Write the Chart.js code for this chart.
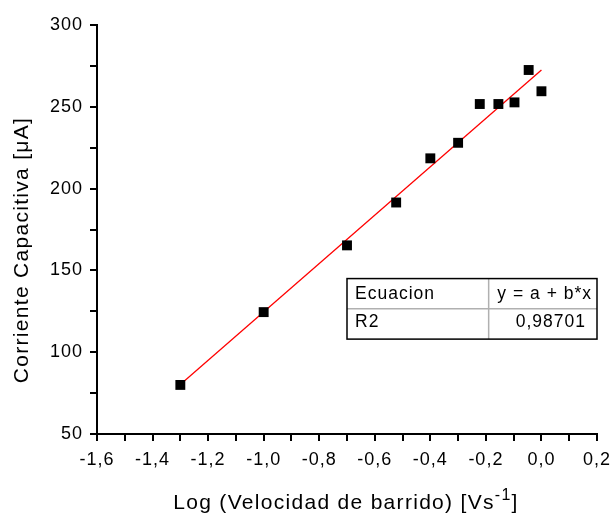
<!DOCTYPE html>
<html>
<head>
<meta charset="utf-8">
<title>Corriente capacitiva</title>
<script src="https://cdn.jsdelivr.net/npm/chart.js@4.4.1/dist/chart.umd.min.js"></script>
<style>
  html, body { margin: 0; padding: 0; background: #fff; }
  #wrap { width: 614px; height: 518px; }
</style>
</head>
<body>
<div id="wrap"><canvas id="myChart" width="614" height="518"></canvas></div>
<script>
// datos
var logVel = [-1.30, -1.00, -0.70, -0.523, -0.40, -0.30, -0.222, -0.155, -0.097, -0.046, 0.00];
var corriente = [80, 124.5, 165.3, 191.5, 218.5, 228, 251.7, 251.7, 252.7, 272.5, 259.5];

var xTickLabels = ["-1,6", "-1,4", "-1,2", "-1,0", "-0,8", "-0,6", "-0,4", "-0,2", "0,0", "0,2"];
var yTickLabels = ["50", "100", "150", "200", "250", "300"];

var tabla = [["Ecuacion", "y = a + b*x"], ["R2", "0,98701"]];

var FONT = "'Liberation Sans', Arial, sans-serif";

// ajuste lineal (minimos cuadrados)
function ajuste(xs, ys) {
  var n = xs.length, mx = 0, my = 0;
  for (var i = 0; i < n; i++) { mx += xs[i]; my += ys[i]; }
  mx /= n; my /= n;
  var sxy = 0, sxx = 0;
  for (var j = 0; j < n; j++) {
    sxy += (xs[j] - mx) * (ys[j] - my);
    sxx += (xs[j] - mx) * (xs[j] - mx);
  }
  var b = sxy / sxx;
  return { a: my - b * mx, b: b };
}
var fit = ajuste(logVel, corriente);
var xMin = Math.min.apply(null, logVel), xMax = Math.max.apply(null, logVel);
var lineaFit = [
  { x: xMin, y: fit.a + fit.b * xMin },
  { x: xMax, y: fit.a + fit.b * xMax }
];

var puntos = logVel.map(function (x, i) { return { x: x, y: corriente[i] }; });

// Arial del original sale algo mas espaciada
var espaciado = {
  id: 'espaciado',
  beforeUpdate: function (c) { c.ctx.letterSpacing = '1px'; },
  beforeDraw: function (c) { c.ctx.letterSpacing = '1px'; }
};

var extras = {
  id: 'extras',
  afterDraw: function (c) {
    var ctx = c.ctx, xs = c.scales.x, ys = c.scales.y, area = c.chartArea;
    ctx.save();
    ctx.fillStyle = '#000';
    ctx.letterSpacing = '1.3px';

    // titulo eje y
    ctx.save();
    ctx.translate(22, 250);
    ctx.rotate(-Math.PI / 2);
    ctx.font = '21px ' + FONT;
    ctx.textAlign = 'center';
    ctx.textBaseline = 'middle';
    ctx.fillText('Corriente Capacitiva [\u03bcA]', 0, 0);
    ctx.restore();

    // titulo eje x con superindice
    var t1 = 'Log (Velocidad de barrido) [Vs', t2 = '-1', t3 = ']';
    ctx.font = '21px ' + FONT;
    var w1 = ctx.measureText(t1).width, w3 = ctx.measureText(t3).width;
    ctx.font = '16px ' + FONT;
    var w2 = ctx.measureText(t2).width;
    var x0 = 346 - (w1 + w2 + w3) / 2, base = 509;
    ctx.textAlign = 'left';
    ctx.textBaseline = 'alphabetic';
    ctx.font = '21px ' + FONT;
    ctx.fillText(t1, x0, base);
    ctx.font = '16px ' + FONT;
    ctx.fillText(t2, x0 + w1, base - 9);
    ctx.font = '21px ' + FONT;
    ctx.fillText(t3, x0 + w1 + w2, base);

    // tabla del ajuste
    var L = xs.getPixelForValue(-0.70), R = area.right;
    var T = ys.getPixelForValue(145), B = ys.getPixelForValue(108);
    var C = xs.getPixelForValue(-0.19), M = (T + B) / 2;
    ctx.lineWidth = 1.5;
    ctx.strokeStyle = '#b0b0b0';
    ctx.beginPath();
    ctx.moveTo(C, T); ctx.lineTo(C, B);
    ctx.moveTo(L, M); ctx.lineTo(R, M);
    ctx.stroke();
    ctx.strokeStyle = '#000';
    ctx.strokeRect(L, T, R - L, B - T);

    ctx.letterSpacing = '1px';
    ctx.font = '17.5px ' + FONT;
    ctx.textAlign = 'left';
    ctx.fillText(tabla[0][0], L + 8, T + 20);
    ctx.fillText(tabla[1][0], L + 8, M + 18);
    ctx.textAlign = 'right';
    ctx.fillText(tabla[0][1], R - 5, T + 20);
    ctx.fillText(tabla[1][1], R - 11, M + 18);
    ctx.restore();
  }
};

new Chart("myChart", {
  type: "scatter",
  data: {
    datasets: [{
      data: puntos,
      pointStyle: 'rect',
      pointRadius: 7,
      pointHoverRadius: 7,
      borderWidth: 0,
      backgroundColor: '#000',
      order: 0
    }, {
      data: lineaFit,
      showLine: true,
      borderColor: '#ff0000',
      borderWidth: 1.3,
      pointRadius: 0,
      order: 1
    }]
  },
  options: {
    responsive: false,
    animation: false,
    events: [],
    layout: { padding: { top: 25, right: 17, left: 0, bottom: 0 } },
    plugins: {
      legend: { display: false },
      tooltip: { enabled: false }
    },
    scales: {
      x: {
        type: 'linear',
        position: 'bottom',
        min: -1.6,
        max: 0.2,
        border: { display: true, color: '#000', width: 2 },
        grid: { drawOnChartArea: false, drawTicks: true, tickLength: 7, color: '#000', lineWidth: 2 },
        ticks: {
          stepSize: 0.1,
          autoSkip: false,
          maxRotation: 0,
          color: '#000',
          padding: 8,
          font: { family: FONT, size: 18 },
          callback: function (v, i) { return i % 2 === 0 ? xTickLabels[i / 2] : ''; }
        },
        afterFit: function (s) { s.height = 84; s.paddingLeft = 0; s.paddingRight = 0; }
      },
      y: {
        type: 'linear',
        position: 'left',
        min: 50,
        max: 300,
        border: { display: true, color: '#000', width: 2 },
        grid: { drawOnChartArea: false, drawTicks: true, tickLength: 7, color: '#000', lineWidth: 2 },
        ticks: {
          stepSize: 25,
          autoSkip: false,
          color: '#000',
          padding: 7,
          font: { family: FONT, size: 18 },
          callback: function (v, i) { return i % 2 === 0 ? yTickLabels[i / 2] : ''; }
        },
        afterFit: function (s) { s.width = 97; s.paddingTop = 0; s.paddingBottom = 0; }
      }
    }
  },
  plugins: [espaciado, extras]
});
</script>
</body>
</html>
